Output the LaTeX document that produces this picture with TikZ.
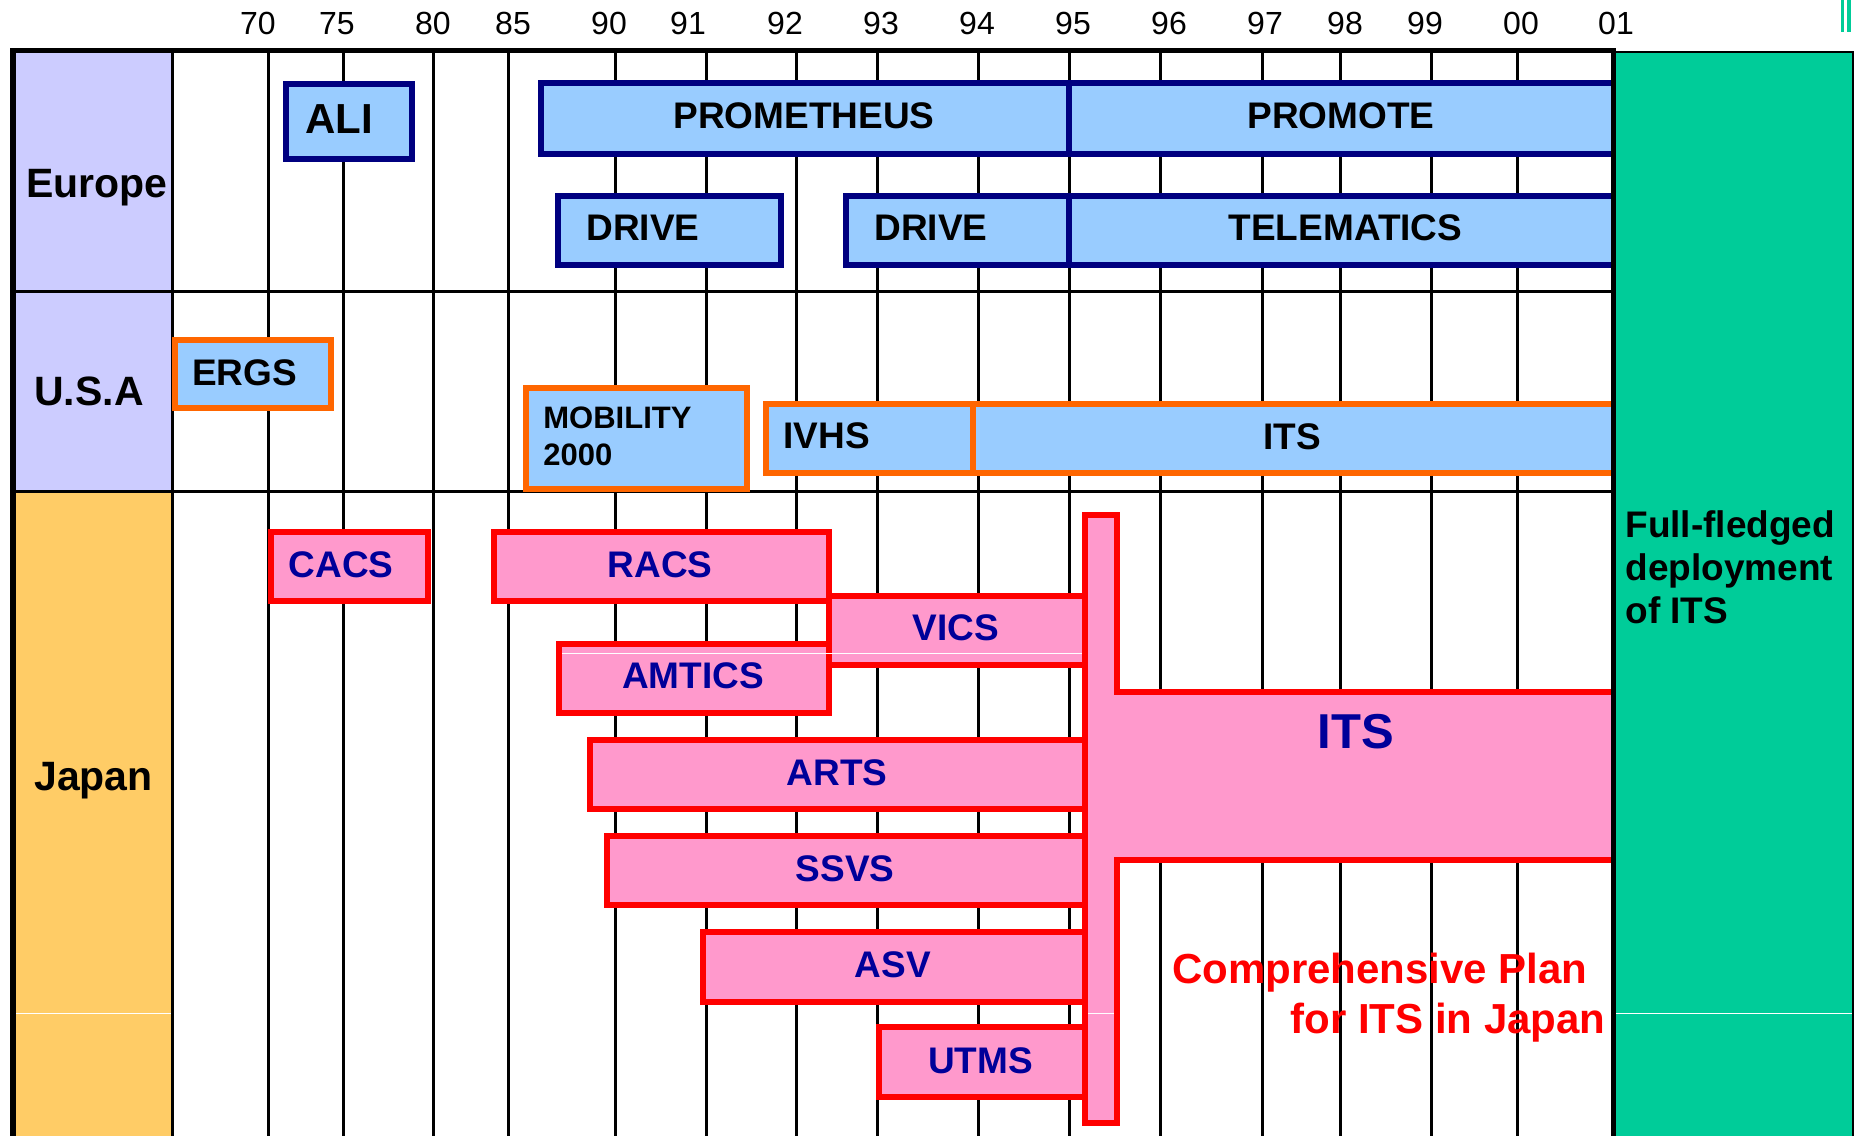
\documentclass[tikz,border=0pt]{standalone}
\usepackage{fontspec}
\setmainfont{Liberation Sans}
\definecolor{lblue}{HTML}{99CCFF}
\definecolor{navyb}{HTML}{000080}
\definecolor{orng}{HTML}{FF6600}
\definecolor{pnk}{HTML}{FF99CC}
\definecolor{redb}{HTML}{FF0000}
\definecolor{lav}{HTML}{CCCCFF}
\definecolor{yel}{HTML}{FFCC66}
\definecolor{grn}{HTML}{00CC99}
\definecolor{jtxt}{HTML}{000099}
\newcommand\myclosedbox[5]{\draw[#1] ({#2+3},{#3+3}) rectangle ({#4-3},{#5-3});}
\newcommand\myopenbox[5]{\fill[#1,draw=none] ({#2+3},{#3+3}) rectangle (#4,{#5-3});
  \draw[#1,fill=none] (#4,{#3+3}) -- ({#2+3},{#3+3}) -- ({#2+3},{#5-3}) -- (#4,{#5-3});}
\begin{document}
\begin{tikzpicture}[x=0.5pt,y=-0.5pt,
  gridline/.style={line width=1.5pt,black},
  eubox/.style={fill=lblue,draw=navyb,line width=3pt,line join=miter},
  usbox/.style={fill=lblue,draw=orng,line width=3pt,line join=miter},
  jpbox/.style={fill=pnk,draw=redb,line width=3pt,line join=miter},
  yr/.style={font=\fontsize{16}{18}\selectfont,inner sep=0,anchor=base},
  lbl/.style={font=\bfseries\fontsize{18.5}{20}\selectfont,inner sep=0,anchor=base},
  jlbl/.style={lbl,text=jtxt},
  region/.style={font=\bfseries\fontsize{20.5}{22}\selectfont,inner sep=0,anchor=base}]
\useasboundingbox (0,0) rectangle (1854,1136);
\fill[white] (0,0) rectangle (1854,1136);
% label column backgrounds
\fill[lav] (13,51) rectangle (172,491);
\fill[yel] (13,491) rectangle (172,1136);
% green column
\fill[grn] (1614,51) rectangle (1853,1136);
\draw[line width=1.1pt] (1614,52) -- (1852.8,52) -- (1852.8,1136);
% marks top right
\fill[grn] (1841,0) rectangle (1844,32);
\fill[grn] (1847,0) rectangle (1851,32);
% grid
\foreach \x in {172,268,343,433,508,615,706,796,877,978.5,1069,1160,1262,1340.5,1431,1517.5}
  \draw[gridline] (\x,51) -- (\x,1136);
\draw[gridline] (13,291) -- (1613,291);
\draw[gridline] (13,491) -- (1613,491);
% year labels
\foreach \x/\t [count=\i] in {258/70,337/75,433/80,513/85,609/90,688/91,785/92,881/93,977/94,1073/95,1169/96,1265/97,1345/98,1425/99,1521/00,1616/01}
  \node[yr] (yr\i) at (\x,34) {\t};
% Europe boxes
\myclosedbox{eubox}{283}{81}{415}{162}
\myopenbox{eubox}{538}{80}{1612}{157}
\draw[navyb,line width=3pt] (1069,80) -- (1069,157);
\myclosedbox{eubox}{555}{193}{784}{268}
\myopenbox{eubox}{843}{193}{1612}{268}
\draw[navyb,line width=3pt] (1069,193) -- (1069,268);
% USA boxes
\myclosedbox{usbox}{172}{337}{334}{411}
\myclosedbox{usbox}{523}{385}{750}{492}
\myopenbox{usbox}{763}{401}{1612}{476}
\draw[orng,line width=3pt] (973,401) -- (973,476);
% Japan boxes
\myclosedbox{jpbox}{268}{529}{431}{604}
\myclosedbox{jpbox}{491}{529}{832}{604}
\myclosedbox{jpbox}{826}{593}{1088}{668}
\myclosedbox{jpbox}{556}{641}{832}{716}
\draw[white,line width=0.5pt] (562,653) -- (1082,653);
\myclosedbox{jpbox}{587}{737}{1088}{812}
\myclosedbox{jpbox}{604}{833}{1088}{908}
\myclosedbox{jpbox}{700}{929}{1088}{1005}
\myclosedbox{jpbox}{876}{1024}{1088}{1100}
% Japan ITS trunk and box
\fill[pnk] (1085,515) -- (1117,515) -- (1117,692) -- (1612,692) -- (1612,860) -- (1117,860) -- (1117,1123) -- (1085,1123) -- cycle;
\draw[redb,line width=3pt,line join=miter] (1612,692) -- (1117,692) -- (1117,515) -- (1085,515) -- (1085,1123) -- (1117,1123) -- (1117,860) -- (1612,860);
% white artefact lines
\draw[white,line width=0.5pt] (16,1013) -- (171,1013);
\draw[white,line width=0.5pt] (1088,1013) -- (1114,1013);
\draw[white,line width=0.5pt] (1616,1013) -- (1852,1013);
% borders
\draw[line width=2.5pt] (1613,51) -- (1613,1136);
\draw[line width=3pt] (13,48) -- (13,1136);
\draw[line width=2.5pt] (10,50.5) -- (1616,50.5);
% region labels
\node[region] (europe) at (97,197) {Europe};
\node[region] (usa) at (89,405) {U.S.A};
\node[region] (japan) at (93.5,790) {Japan};
% Europe labels
\node[lbl,font=\bfseries\fontsize{21}{22}\selectfont] (ali) at (339,133) {ALI};
\node[lbl] (prometheus) at (804,128.5) {PROMETHEUS};
\node[lbl] (promote) at (1341,128.5) {PROMOTE};
\node[lbl] (drive1) at (643,240) {DRIVE};
\node[lbl] (drive2) at (931,240) {DRIVE};
\node[lbl] (telematics) at (1345.5,240.5) {TELEMATICS};
% USA labels
\node[lbl] (ergs) at (244.5,385) {ERGS};
\node[lbl,anchor=base west,font=\bfseries\fontsize{15.5}{17}\selectfont] (mob1) at (543,428) {MOBILITY};
\node[lbl,anchor=base west,font=\bfseries\fontsize{15.5}{17}\selectfont] (mob2) at (543,465) {2000};
\node[lbl,anchor=base west] (ivhs) at (783,448) {IVHS};
\node[lbl] (itsusa) at (1292,449) {ITS};
% Japan labels
\node[jlbl] (cacs) at (341,577) {CACS};
\node[jlbl] (racs) at (660,577) {RACS};
\node[jlbl] (vics) at (956,640) {VICS};
\node[jlbl] (amtics) at (693,688) {AMTICS};
\node[jlbl] (arts) at (837,785) {ARTS};
\node[jlbl] (ssvs) at (845,881) {SSVS};
\node[jlbl] (asv) at (893,977) {ASV};
\node[jlbl] (utms) at (980.5,1073) {UTMS};
\node[jlbl,font=\bfseries\fontsize{24.5}{26}\selectfont] (itsjp) at (1356,748) {ITS};
\node[region,text=redb,anchor=base east,font=\bfseries\fontsize{21}{22}\selectfont] (plan1) at (1588,983) {Comprehensive Plan};
\node[region,text=redb,anchor=base east,font=\bfseries\fontsize{21}{22}\selectfont] (plan2) at (1606,1033) {for ITS in Japan};
% green column text
\node[lbl,anchor=base west] (full1) at (1625,537) {Full-fledged};
\node[lbl,anchor=base west] (full2) at (1625,580) {deployment};
\node[lbl,anchor=base west] (full3) at (1625,623) {of ITS};
\end{tikzpicture}
\end{document}
